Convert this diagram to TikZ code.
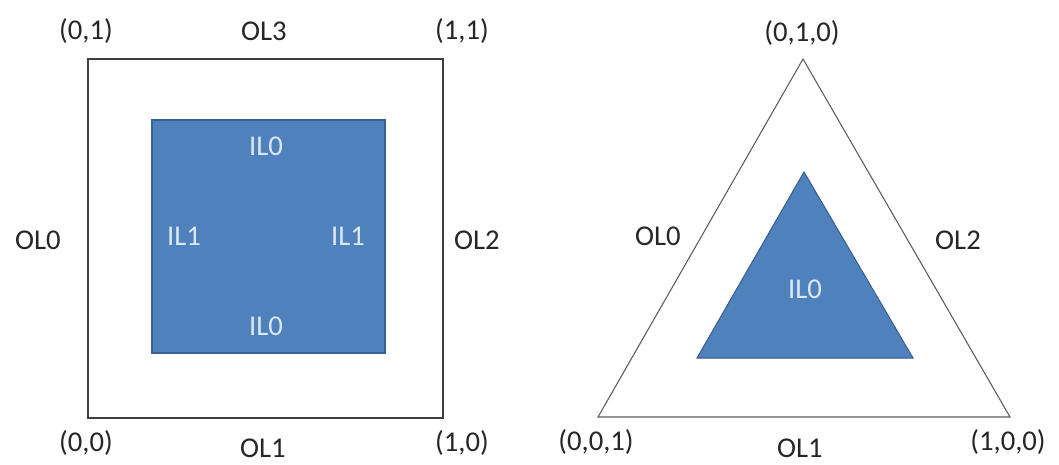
\documentclass[tikz,border=0pt]{standalone}
\usepackage{fontspec}
\setmainfont{Carlito}
\definecolor{patchblue}{HTML}{4F81BD}
\definecolor{patchedge}{HTML}{3A618F}
\definecolor{innertext}{HTML}{DDE8F5}
\definecolor{outline}{HTML}{3F3F3F}
\begin{document}
\begin{tikzpicture}[x=0.75pt,y=-0.75pt,
  lbl/.style={inner sep=0pt,font=\fontsize{21.5}{26}\selectfont,text=black!85},
  ilbl/.style={inner sep=0pt,font=\fontsize{21.5}{26}\selectfont,text=innertext},
  outer/.style={draw=outline,line width=1.1pt},
  outertri/.style={draw=outline!85,line width=0.8pt,line join=miter},
  inner/.style={fill=patchblue,draw=patchedge,line width=0.8pt}]
\useasboundingbox (0,0) rectangle (1059,464);

% quad domain: outer and inner tessellation levels
\coordinate (q00) at (88,418);
\coordinate (q11) at (443,59);
\draw[outer] (q00) rectangle (q11);
\coordinate (i00) at (152,353);
\coordinate (i11) at (385,120);
\draw[inner] (i00) rectangle (i11);

\node[lbl] (c01) at (86,31) {(0,1)};
\node[lbl] (ol3q) at (264,31) {OL3};
\node[lbl] (c11) at (462,31) {(1,1)};
\node[lbl] (ol0q) at (38,240) {OL0};
\node[lbl] (ol2q) at (477,240) {OL2};
\node[lbl] (c00) at (86,443) {(0,0)};
\node[lbl] (ol1q) at (263,448) {OL1};
\node[lbl] (c10) at (462,443) {(1,0)};

\node[ilbl] (il0t) at (266,146) {IL0};
\node[ilbl] (il1l) at (184,236) {IL1};
\node[ilbl] (il1r) at (348,236) {IL1};
\node[ilbl] (il0b) at (266,326) {IL0};

% triangle domain
\coordinate (ta) at (803,59);
\coordinate (tl) at (598,417);
\coordinate (tr) at (1010,417);
\draw[outertri] (ta) -- (tl) -- (tr) -- cycle;
\coordinate (sa) at (804,172);
\coordinate (sl) at (697,358);
\coordinate (sr) at (913,358);
\draw[inner,line join=miter] (sa) -- (sl) -- (sr) -- cycle;

\node[lbl] (c010) at (802,33) {(0,1,0)};
\node[lbl] (ol0t) at (658,236) {OL0};
\node[lbl] (ol2t) at (958,240) {OL2};
\node[lbl] (c001) at (596,442) {(0,0,1)};
\node[lbl] (ol1t) at (800,448) {OL1};
\node[lbl] (c100) at (1008,442) {(1,0,0)};
\node[ilbl] (il0c) at (805,289) {IL0};
\end{tikzpicture}
\end{document}
